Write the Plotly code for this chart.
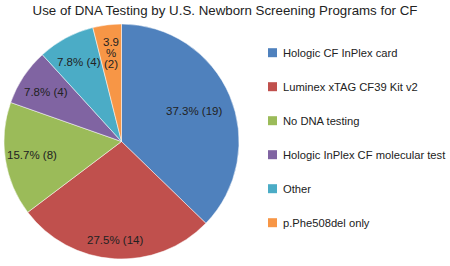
import math
import plotly.graph_objects as go

labels = ["Hologic CF InPlex card", "Luminex xTAG CF39 Kit v2", "No DNA testing",
          "Hologic InPlex CF molecular test", "Other", "p.Phe508del only"]
values = [19, 14, 8, 4, 4, 2]
colors = ["#4F81BD", "#C0504D", "#9BBB59", "#8064A2", "#4BACC6", "#F79646"]
# label distance from centre as a fraction of the radius (layout only)
label_r = [0.67, 0.84, 0.77, 0.77, 0.77, 0.76]

total = sum(values)
W, H = 450, 266
font = "Liberation Sans, Arial, Helvetica, sans-serif"

# pie placement in pixels (layout)
cx, cy, R = 121.5, 141.5, 117.5
dom_x = [(cx - R) / W, (cx + R) / W]
dom_y = [1 - (cy + R) / H, 1 - (cy - R) / H]

fig = go.Figure(go.Pie(
    labels=labels, values=values, textinfo="none",
    sort=False, direction="clockwise", rotation=0,
    marker=dict(colors=colors, line=dict(color="white", width=0.5)),
    domain=dict(x=dom_x, y=dom_y),
    showlegend=False, hoverinfo="label+value+percent",
))

annotations = []
cum = 0
for v, fr in zip(values, label_r):
    mid = (cum + v / 2) / total * 2 * math.pi
    cum += v
    px = cx + fr * R * math.sin(mid)
    py = cy - fr * R * math.cos(mid)
    pct = f"{v / total * 100:.1f}"
    lines = [f"{pct}", "%", f"({v})"] if v / total < 0.05 else [f"{pct}% ({v})"]
    n = len(lines)
    for j, ln in enumerate(lines):
        annotations.append(dict(text=ln, xref="paper", yref="paper",
                                x=px / W, y=1 - py / H, xanchor="center", yanchor="middle",
                                yshift=-(j - (n - 1) / 2) * 11, showarrow=False,
                                font=dict(family=font, size=11.5, color="#222222")))

shapes = []
for i, (lab, col) in enumerate(zip(labels, colors)):
    yc = 52.7 + 34 * i
    shapes.append(dict(type="rect", xref="paper", yref="paper",
                       x0=268 / W, x1=277 / W, y0=1 - (yc + 4.5) / H, y1=1 - (yc - 4.5) / H,
                       fillcolor=col, line=dict(width=0)))
    annotations.append(dict(text=lab, xref="paper", yref="paper", x=281 / W, y=1 - yc / H,
                            xanchor="left", yanchor="middle", showarrow=False,
                            font=dict(family=font, size=11.2, color="#222222")))

fig.update_layout(
    width=W, height=H, margin=dict(l=0, r=0, t=0, b=0),
    paper_bgcolor="white", plot_bgcolor="white",
    title=dict(text="Use of DNA Testing by U.S. Newborn Screening Programs for CF",
               x=0.5, xanchor="center", y=1 - 10 / H, yanchor="middle",
               font=dict(family=font, size=13.3, color="#222222")),
    shapes=shapes, annotations=annotations,
)

fig.write_html("out.html", config={"displayModeBar": False},
               post_script="document.body.style.margin='0px';")
